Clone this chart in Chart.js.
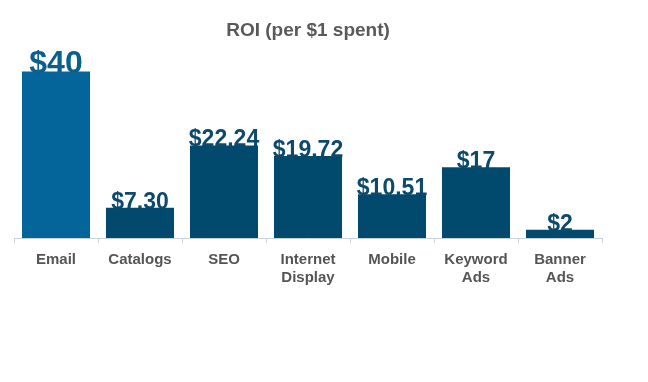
<!DOCTYPE html>
<html lang="en">
<head>
  <meta charset="UTF-8" />
  <title>ROI (per $1 spent)</title>
  <script src="https://cdn.jsdelivr.net/npm/chart.js"></script>
  <style>
    html, body { margin: 0; padding: 0; background: #fff; }
    .wrap { width: 648px; height: 382px; }
  </style>
</head>
<body>
  <div class="wrap"><canvas id="roi"></canvas></div>

  <script>
    // categories (multi-line labels) and ROI values
    const canales = [['Email'], ['Catalogs'], ['SEO'], ['Internet', 'Display'], ['Mobile'], ['Keyword', 'Ads'], ['Banner', 'Ads']];
    const roi = [40, 7.30, 22.24, 19.72, 10.51, 17, 2];
    const etiquetas = ['$40', '$7.30', '$22.24', '$19.72', '$10.51', '$17', '$2'];

    const colorEmail = '#04659a';
    const colorResto = '#024a6d';
    const coloresBarras = roi.map((v, i) => i === 0 ? colorEmail : colorResto);
    const coloresTexto = roi.map((v, i) => i === 0 ? '#0b5f8c' : '#0c4a6c');

    // value labels sitting on top of each bar
    const etiquetasBarras = {
      id: 'etiquetasBarras',
      afterDatasetsDraw(chart) {
        const ctx = chart.ctx;
        const meta = chart.getDatasetMeta(0);
        ctx.save();
        ctx.textAlign = 'center';
        ctx.textBaseline = 'alphabetic';
        meta.data.forEach((bar, i) => {
          const size = i === 0 ? 32 : 23;
          ctx.font = 'bold ' + size + 'px "Liberation Sans", Arial, sans-serif';
          ctx.fillStyle = coloresTexto[i];
          ctx.fillText(etiquetas[i], bar.x, bar.y + 1);
        });
        ctx.restore();
      }
    };

    new Chart(document.getElementById('roi'), {
      type: 'bar',
      data: {
        labels: canales,
        datasets: [{
          data: roi,
          backgroundColor: coloresBarras,
          categoryPercentage: 0.9,
          barPercentage: 0.9
        }]
      },
      options: {
        responsive: true,
        maintainAspectRatio: false,
        animation: false,
        layout: { padding: { left: 14, right: 46, top: 0, bottom: 87 } },
        plugins: {
          legend: { display: false },
          tooltip: { enabled: false },
          title: {
            display: true,
            text: 'ROI (per $1 spent)',
            color: '#595959',
            font: { family: '"Liberation Sans", Arial, sans-serif', size: 19, weight: 'bold' },
            padding: { top: 19, bottom: 9 }
          }
        },
        scales: {
          x: {
            grid: { drawOnChartArea: false, tickLength: 5, color: '#c5d3dd' },
            border: { display: true, color: '#c5d3dd' },
            ticks: {
              color: '#555555',
              padding: 8,
              font: { family: '"Liberation Sans", Arial, sans-serif', size: 15, weight: 'bold' }
            }
          },
          y: {
            display: false,
            min: 0,
            max: 45
          }
        }
      },
      plugins: [etiquetasBarras]
    });
  </script>
</body>
</html>
